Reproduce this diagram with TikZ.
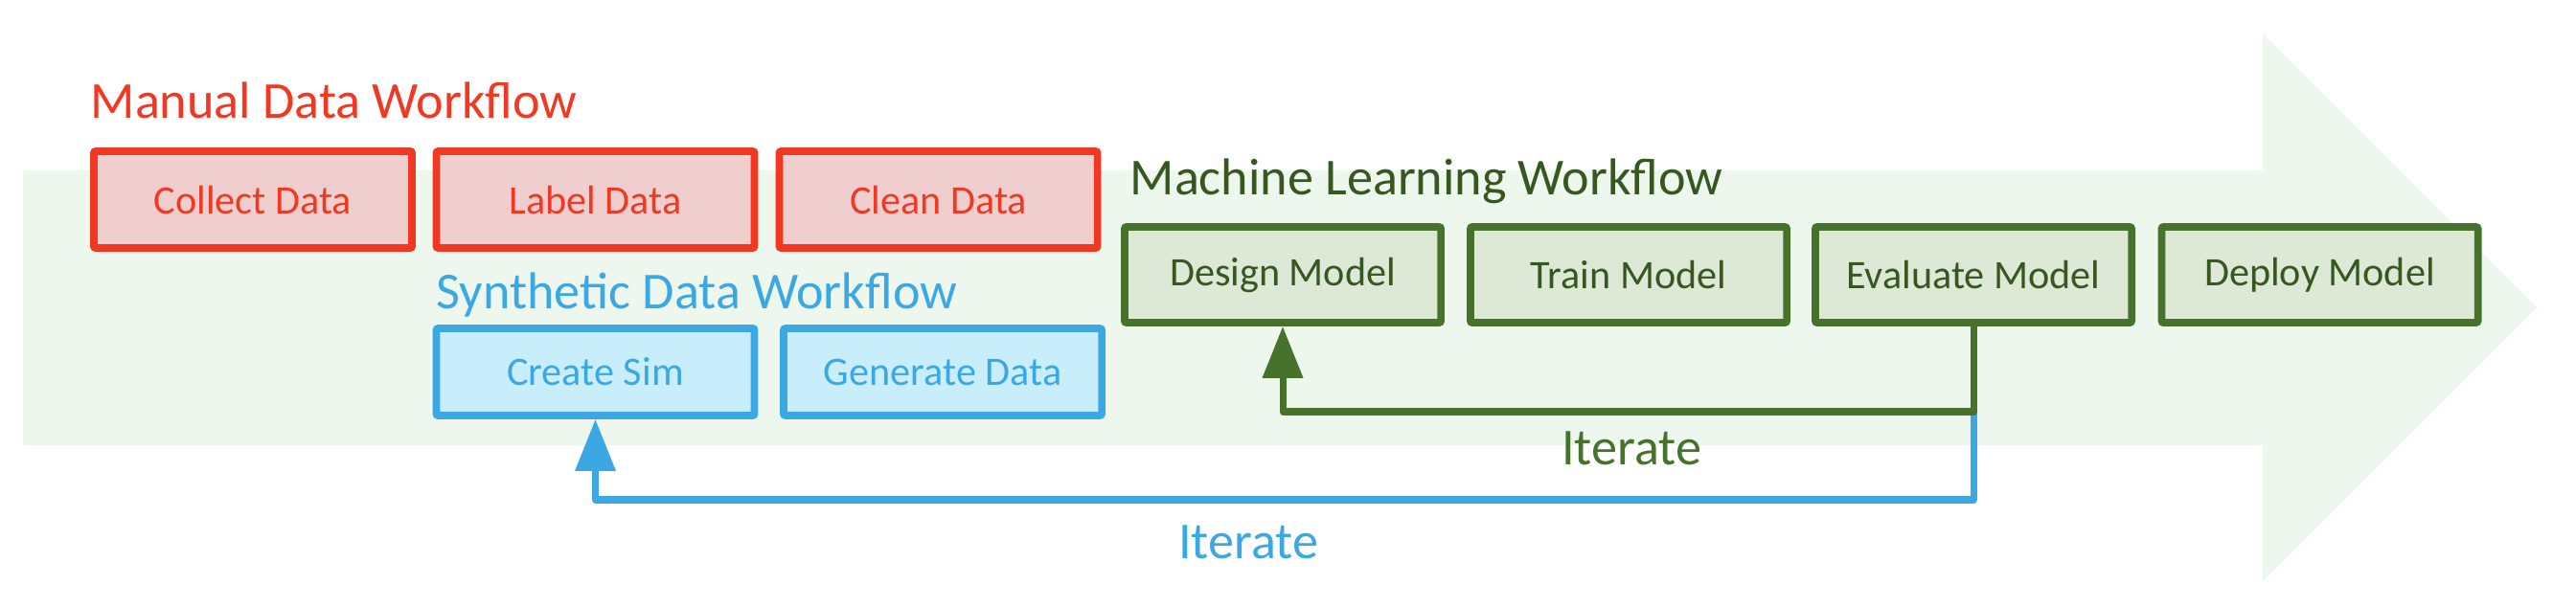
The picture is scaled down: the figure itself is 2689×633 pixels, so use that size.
\documentclass[tikz,border=0pt]{standalone}
\usepackage{fontspec}
\setmainfont{Carlito}
\usepackage{xcolor}
\usetikzlibrary{arrows.meta}

\definecolor{manualred}{RGB}{240,56,35}
\definecolor{manualfill}{RGB}{240,206,205}
\definecolor{synthblue}{RGB}{59,168,227}
\definecolor{synthfill}{RGB}{200,238,252}
\definecolor{mlgreen}{RGB}{71,114,44}
\definecolor{mlfill}{RGB}{221,232,214}
\definecolor{mltext}{RGB}{55,87,33}
\definecolor{flowbg}{RGB}{237,247,237}

\tikzset{
	stage/.style = {draw, line width = 2.2pt, rounded corners = 0.6pt, minimum width = 3.32cm,
		font = \fontsize{12}{14}\selectfont, inner sep = 0pt},
	manual/.style = {stage, draw = manualred, fill = manualfill, text = manualred, minimum height = 1.01cm},
	synth/.style = {stage, draw = synthblue, fill = synthfill, text = synthblue, minimum height = 0.91cm},
	ml/.style = {stage, draw = mlgreen, fill = mlfill, text = mltext, minimum height = 1.0cm, minimum width = 3.30cm},
	title/.style = {font = \fontsize{15.4}{18}\selectfont, inner sep = 0pt},
	loop/.style = {line width = 2pt, line join = round, -{Triangle[length = 0.54cm, width = 0.41cm]}}
}

\begin{document}
\begin{tikzpicture}[x = 0.01cm, y = -0.01cm]
		\useasboundingbox (0,0) rectangle (2689,633);
		\fill [flowbg] (24,178) -- (2362,178) -- (2362,35) -- (2648,321) -- (2362,607) -- (2362,465) -- (24,465) -- cycle;
		% manual data workflow
		\node[title, text = manualred, anchor = base west] (mtitle) at (94,123) {Manual Data Workflow};
		\foreach \x/\n/\t in {264/collect/Collect Data, 621.5/label/Label Data, 979.5/clean/Clean Data}{
			\node[manual] (\n) at (\x, 208.5) {\t};
			}
		% synthetic data workflow
		\node[title, text = synthblue, anchor = base west] (stitle) at (455,322) {Synthetic Data Workflow};
		\foreach \x/\n/\t in {621.5/sim/Create Sim, 984/gen/Generate Data}{
			\node[synth] (\n) at (\x, 388.5) {\t};
			}
		% machine learning workflow
		\node[title, text = mltext, anchor = base west] (ltitle) at (1179,203) {Machine Learning Workflow};
		\foreach \x/\n/\t in {1339/design/Design Model, 1700/train/Train Model, 2060/eval/Evaluate Model, 2421.5/deploy/Deploy Model}{
			\node[ml] (\n) at (\x, 287) {\t};
			}
		\coordinate (turn) at (2060,430);
		\coordinate (low) at (2060,522);
		\draw [loop, synthblue] (turn) -- (low) -| (sim.south);
		\draw [loop, mlgreen] (eval.south) -- (turn) -| (design.south);
		\node[title, text = mlgreen, anchor = base] (giter) at (1703,485) {Iterate};
		\node[title, text = synthblue, anchor = base] (biter) at (1303,583) {Iterate};
	\end{tikzpicture}
\end{document}
